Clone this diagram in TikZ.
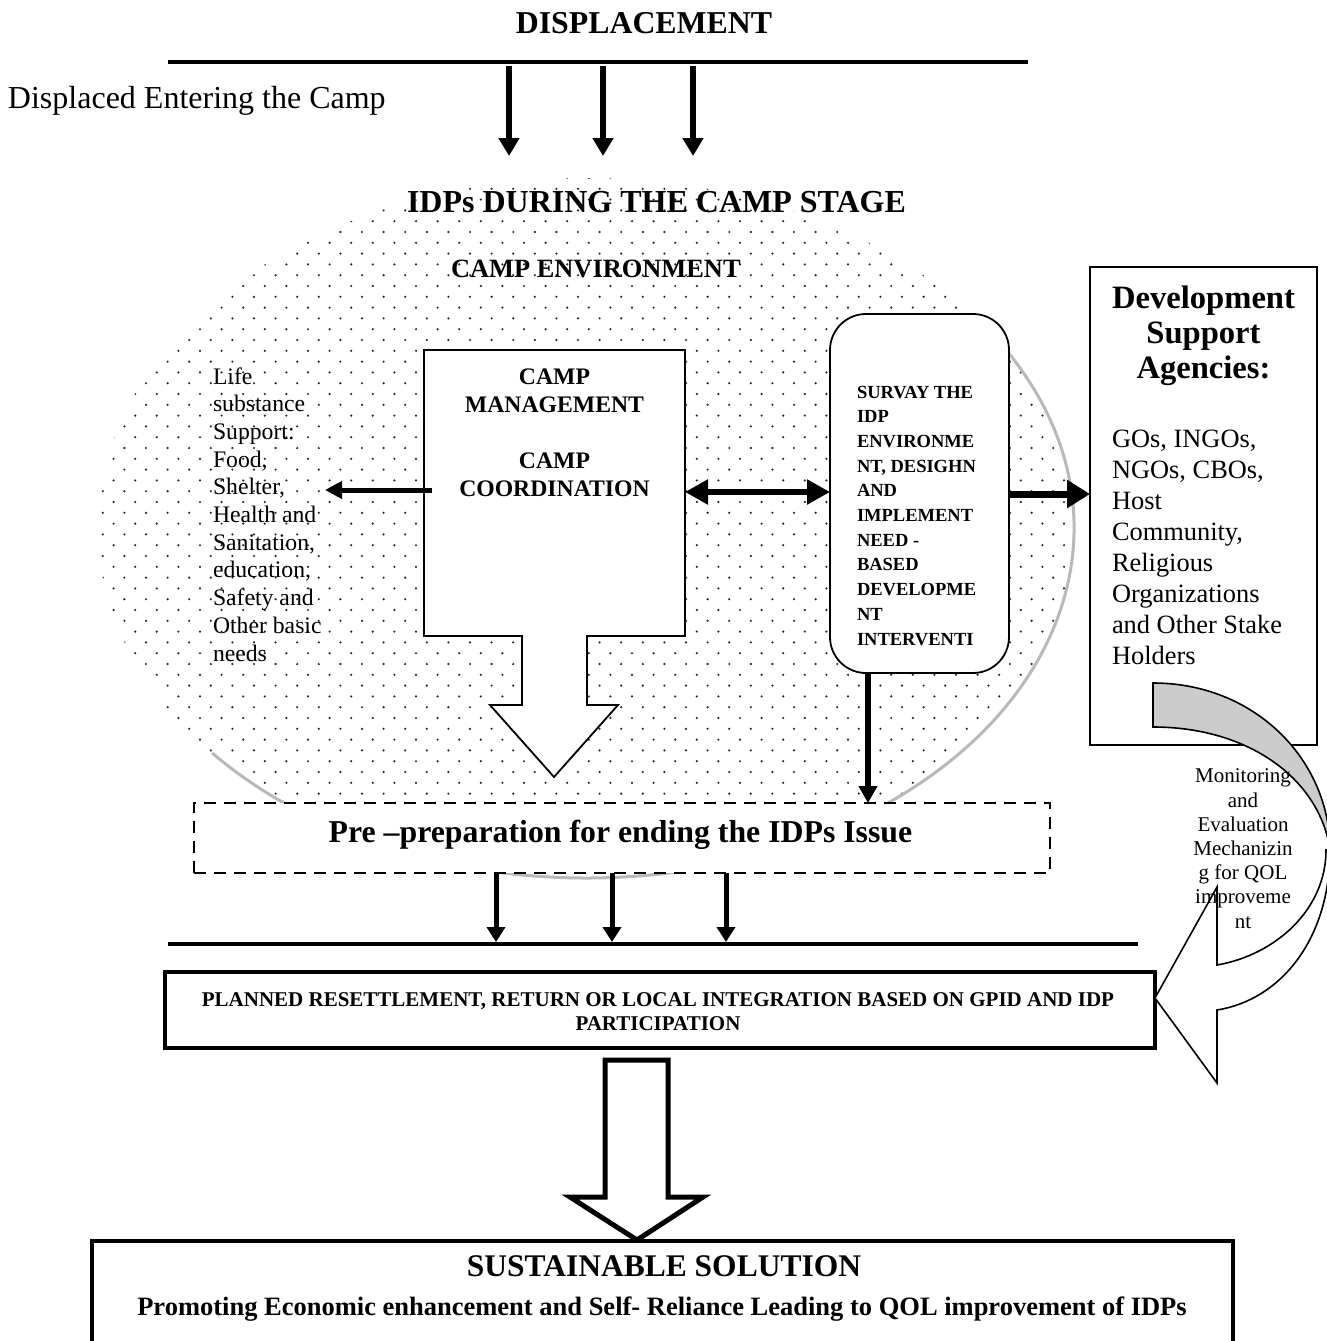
\documentclass[tikz,border=0pt]{standalone}
\usepackage{fontspec}
\setmainfont{Liberation Serif}
\usetikzlibrary{arrows.meta}
\newcommand\setfs[2]{\fontsize{#1}{#2}\selectfont}
\begin{document}
\begin{tikzpicture}[x=1pt,y=-1pt,
  every node/.style={inner sep=0pt, outer sep=0pt},
  thinbox/.style={draw, line width=1.8pt, fill=white},
  rule/.style={line width=4pt},
  downarrow/.style={line width=6pt, -{Triangle[length=18pt,width=20pt]}},
  dotfill/.style={fill=black!85},
  bandline/.style={draw=black, line width=1.6pt, line join=miter},
]
\useasboundingbox (0,0) rectangle (1327,1341);
\fill[white] (0,0) rectangle (1327,1341);

% ---------- header ----------
\node[anchor=base, font=\bfseries\setfs{31.8}{36}] (title) at (644,33) {DISPLACEMENT};
\coordinate (topL) at (168,62);
\coordinate (topR) at (1028,62);
\draw[rule] (topL) -- (topR);
\node[anchor=base west, font=\setfs{32}{36}] (entering) at (8,108) {Displaced Entering the Camp};
\foreach \n/\x in {a/509,b/603,c/693}{
  \coordinate (in\n) at (\x,66);
  \coordinate (in\n end) at (\x,156);
  \draw[downarrow] (in\n) -- (in\n end);
}

% ---------- camp environment (dotted ellipse) ----------
\begin{scope}
  \clip (586,528) ellipse [x radius=488, y radius=350];
  \foreach \i in {0,...,65}{
    \pgfmathsetmacro\off{mod(\i,2)*10.8}
    \foreach \j in {0,...,45}{
      \fill[dotfill] (92+\off+\j*21.6, 178+\i*10.8) circle[radius=1.2pt];
    }
  }
\end{scope}
\draw[gray!55, line width=3pt] (586,528) ++(-30:488 and 350)
  arc[start angle=-30, end angle=140, x radius=488, y radius=350];

\node[anchor=base west, font=\bfseries\setfs{32}{36}] (stage) at (407,212) {IDPs DURING THE CAMP STAGE};
\node[anchor=base west, font=\bfseries\setfs{26.4}{30}] (env) at (451,277) {CAMP ENVIRONMENT};

% camp management box with its hollow down arrow
\node[minimum width=261pt, minimum height=286pt] (mgmt) at (554.5,493) {};
\draw[thinbox] (424,350) -- (685,350) -- (685,636) -- (587,636) -- (587,705) -- (618,705)
  -- (554,777) -- (490,705) -- (522,705) -- (522,636) -- (424,636) -- cycle;
\node[anchor=base, align=center, font=\bfseries\setfs{23.7}{27.8}] (mgmttext) at (554.5,496)
  {CAMP\\MANAGEMENT\\[27.8pt]CAMP\\COORDINATION};

% life support list
\node[anchor=base west, align=left, font=\setfs{23.7}{27.7}] (life) at (213,661)
  {Life\\substance\\Support:\\Food,\\Shelter,\\Health and\\Sanitation,\\education,\\Safety and\\Other basic\\needs};
\coordinate (lifeend) at (325,490);
\draw[line width=5pt, -{Triangle[length=17pt,width=17pt]}] ([xshift=8pt]mgmt.west |- lifeend) -- (lifeend);

% survey box
\node[thinbox, rounded corners=36pt, minimum width=179pt, minimum height=359pt] (survey) at (919.5,493.5) {};
\node[anchor=base west, align=left, font=\bfseries\setfs{18.5}{24.7}] (surveytext) at (857,645)
  {SURVAY THE\\IDP\\ENVIRONME\\NT, DESIGHN\\AND\\IMPLEMENT\\NEED -\\BASED\\DEVELOPME\\NT\\INTERVENTI};
\draw[line width=5.5pt, {Triangle[length=23pt,width=24pt]}-{Triangle[length=23pt,width=24pt]}]
  (mgmt.east |- 0,492) -- (survey.west |- 0,492);

% development support agencies
\node[draw, line width=1.8pt, minimum width=227pt, minimum height=478pt] (dev) at (1203.5,506) {};
\node[anchor=base, align=center, font=\bfseries\setfs{32.6}{35}] (devhead) at (1203.5,378)
  {Development\\Support\\Agencies:};
\node[anchor=base west, align=left, font=\setfs{26.4}{31}] (devlist) at (1112,664)
  {GOs, INGOs,\\NGOs, CBOs,\\Host\\Community,\\Religious\\Organizations\\and Other Stake\\Holders};
\draw[line width=7pt, -{Triangle[length=23pt,width=27pt]}] (survey.east |- 0,494) -- (dev.west |- 0,494);

% pre-preparation box
\node[draw, fill=white, line width=2.3pt, dash pattern=on 12pt off 8pt,
      minimum width=856pt, minimum height=70pt] (prep) at (622,838) {};
\node[anchor=base, font=\bfseries\setfs{31.8}{36}] (preptext) at (620.5,842)
  {Pre –preparation for ending the IDPs Issue};
\coordinate (sv) at (868,673);
\draw[line width=6pt, -{Triangle[length=17pt,width=18pt]}] (sv) -- (sv |- prep.north);

% second rule and arrows onto it
\coordinate (midL) at (168,944);
\coordinate (midR) at (1138,944);
\draw[rule] (midL) -- (midR);
\foreach \n/\x in {a/496,b/612,c/726}{
  \coordinate (out\n) at (\x,942);
  \draw[line width=5pt, -{Triangle[length=15pt,width=18pt]}] (out\n |- prep.south) -- (out\n);
}

% planned resettlement box
\node[draw, line width=3.5pt, minimum width=990pt, minimum height=76pt] (planned) at (660,1010) {};
\node[anchor=base, align=center, font=\bfseries\setfs{21}{24}] (plannedtext) at (658,1030)
  {PLANNED RESETTLEMENT, RETURN OR LOCAL INTEGRATION BASED ON GPID AND IDP\\PARTICIPATION};

% hollow arrow to the solution
\draw[line width=5pt, fill=white, line join=miter] (605,1060) -- (668,1060) -- (668,1197) -- (703,1197)
  -- (637,1240) -- (570,1197) -- (605,1197) -- cycle;

% sustainable solution box
\node[draw, line width=4pt, minimum width=1141pt, minimum height=125pt] (final) at (662.5,1303.5) {};
\node[anchor=base, font=\bfseries\setfs{31.5}{36}] (finalhead) at (664,1276) {SUSTAINABLE SOLUTION};
\node[anchor=base, font=\bfseries\setfs{26.5}{30}] (finaltext) at (662,1315)
  {Promoting Economic enhancement and Self- Reliance Leading to QOL improvement of IDPs};

% curved monitoring arrow
\path[bandline, fill=gray!40] (1153,683) .. controls (1255,683) and (1330,760) .. (1330,850)
  .. controls (1320,780) and (1250,727) .. (1153,727) -- cycle;
\path[bandline, fill=white] (1330,850) .. controls (1330,940) and (1280,1000) .. (1217,1010)
  -- (1217,1083) -- (1155,998) -- (1217,887) -- (1217,965)
  .. controls (1275,955) and (1326,910) .. (1326,850) -- cycle;
\node[anchor=base, align=center, font=\setfs{21}{24.2}] (monitor) at (1243,928)
  {Monitoring\\and\\Evaluation\\Mechanizin\\g for QOL\\improveme\\nt};
\end{tikzpicture}
\end{document}
